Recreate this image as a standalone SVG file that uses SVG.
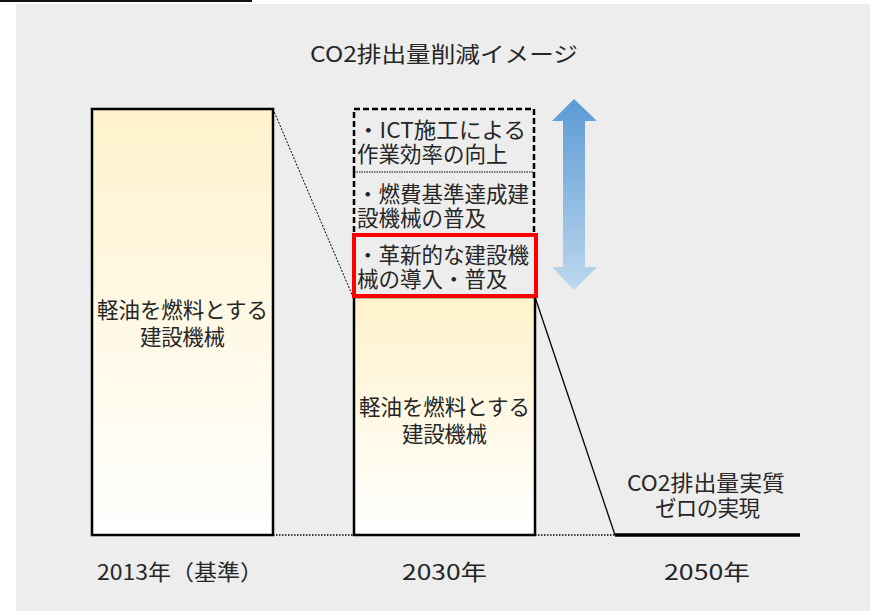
<svg xmlns="http://www.w3.org/2000/svg" width="870" height="611" viewBox="0 0 870 611">
<defs>
<linearGradient id="barFill" x1="0" y1="0" x2="0" y2="1">
<stop offset="0" stop-color="#fff2cc"/>
<stop offset="1" stop-color="#ffffff"/>
</linearGradient>
<linearGradient id="arrowFill" x1="0" y1="0" x2="0" y2="1">
<stop offset="0" stop-color="#5b9bd5"/>
<stop offset="1" stop-color="#bdd7ee"/>
</linearGradient>
<style>
text{font-family:"Noto Sans CJK JP","Noto Sans",sans-serif;fill:#262626;font-size:21.5px}
.c{text-anchor:middle}
.bar{fill:url(#barFill);stroke:#000;stroke-width:2.5}
</style>
</defs>
<line x1="0" y1="1" x2="252" y2="1" stroke="#111" stroke-width="2"/>
<rect x="16" y="4" width="854" height="607" fill="#ededed"/>
<text id="title" x="310" y="62" textLength="268" lengthAdjust="spacingAndGlyphs">CO2排出量削減イメージ</text>

<g id="connectors">
<line x1="273" y1="109" x2="353" y2="297" stroke="#000" stroke-width="1" stroke-dasharray="2,1.5"/>
<line x1="535" y1="297" x2="615" y2="535" stroke="#000" stroke-width="1.3"/>
<line x1="273" y1="535" x2="353" y2="535" stroke="#000" stroke-width="1.5" stroke-dasharray="1.5,1.5"/>
<line x1="535" y1="535" x2="615" y2="535" stroke="#000" stroke-width="1.5" stroke-dasharray="1.5,1.5"/>
<line x1="615" y1="535" x2="800" y2="535" stroke="#000" stroke-width="3.5"/>
</g>

<g id="bar2013">
<rect class="bar" x="92" y="109" width="181" height="426"/>
<text x="97" y="318" textLength="171">軽油を燃料とする</text>
<text x="140" y="345" textLength="85">建設機械</text>
</g>

<g id="bar2030">
<rect class="bar" x="354" y="297" width="181" height="238"/>
<text x="359" y="415" textLength="171">軽油を燃料とする</text>
<text x="402" y="442" textLength="85">建設機械</text>
</g>

<g id="box-ict">
<path d="M354,172 V109 H534 V172" fill="none" stroke="#000" stroke-width="2.5" stroke-dasharray="6,3"/>
<line x1="354" y1="172" x2="534" y2="172" stroke="#000" stroke-width="1" stroke-dasharray="1.5,1"/>
<text x="357" y="138" textLength="169" lengthAdjust="spacingAndGlyphs">・ICT施工による</text>
<text x="357" y="162">作業効率の向上</text>
</g>

<g id="box-fuel">
<path d="M354,172 V234 M534,172 V234" fill="none" stroke="#000" stroke-width="2.5" stroke-dasharray="6,3"/>
<text x="357" y="202">・燃費基準達成建</text>
<text x="357" y="226">設機械の普及</text>
</g>

<g id="box-innov">
<rect x="354" y="235" width="182" height="61" fill="none" stroke="#ff0000" stroke-width="4"/>
<text x="357" y="263">・革新的な建設機</text>
<text x="357" y="287">械の導入・普及</text>
</g>

<g id="arrow">
<polygon points="574,99 597,121 585,121 585,267 597,267 574,290 552,267 563,267 563,121 552,121" fill="url(#arrowFill)"/>
</g>

<g id="zero">
<text x="627" y="491" textLength="158" lengthAdjust="spacingAndGlyphs">CO2排出量実質</text>
<text x="655" y="516" textLength="105">ゼロの実現</text>
</g>

<g id="labels">
<text x="97" y="580" textLength="166" lengthAdjust="spacingAndGlyphs">2013年（基準）</text>
<text x="402" y="580" textLength="85" lengthAdjust="spacingAndGlyphs">2030年</text>
<text x="664" y="580" textLength="86" lengthAdjust="spacingAndGlyphs">2050年</text>
</g>
</svg>
